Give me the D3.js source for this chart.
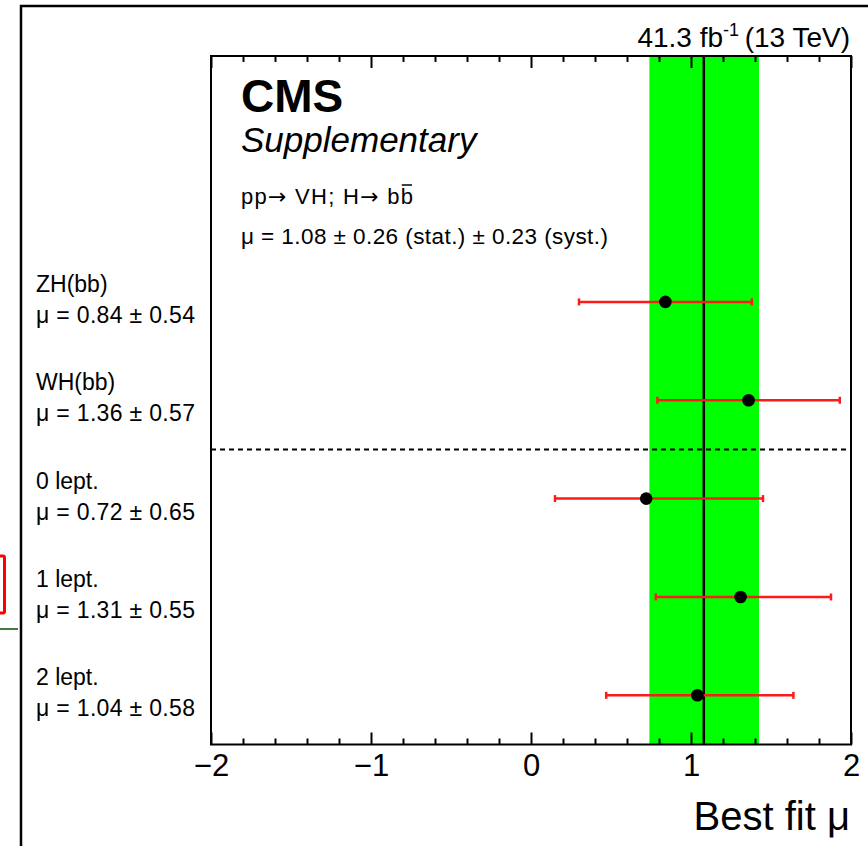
<!DOCTYPE html>
<html><head><meta charset="utf-8">
<script src="https://cdn.jsdelivr.net/npm/d3@7"></script>
<style>
body{margin:0;background:#fff}
svg{display:block}
text{font-family:"Liberation Sans",Arial,Helvetica,sans-serif;fill:#000}
</style>
</head><body>
<svg id="c" width="868" height="846"></svg>
<script>
// ---- data ----
const categories = ["ZH(bb)", "WH(bb)", "0 lept.", "1 lept.", "2 lept."];
const muLabels = ["μ = 0.84 ± 0.54", "μ = 1.36 ± 0.57", "μ = 0.72 ± 0.65", "μ = 1.31 ± 0.55", "μ = 1.04 ± 0.58"];
const muValues = [0.84, 1.36, 0.72, 1.31, 1.04];
const errLow  = [0.54, 0.57, 0.57, 0.53, 0.57];
const errHigh = [0.54, 0.57, 0.73, 0.565, 0.60];
const rowPositions = [4, 3, 2, 1, 0];
const separatorPositions = [2.5];
const combinedMu = [1.08];
const combinedLow = [0.74];
const combinedHigh = [1.425];
const xMajorTicks = [-2, -1, 0, 1, 2];
const xTickLabels = ["\u22122", "\u22121", "0", "1", "2"];
const xMinorTicks = [-1.8,-1.6,-1.4,-1.2,-0.8,-0.6,-0.4,-0.2,0.2,0.4,0.6,0.8,1.2,1.4,1.6,1.8];

// ---- layout ----
const L = 211, R = 851, T = 56, B = 744.5;
const svg = d3.select("#c");
const x = d3.scaleLinear().domain([-2, 2]).range([L, R]);
const y = d3.scaleLinear().domain([-0.5, 6.5]).range([B, T]);

// outer frame (screenshot border)
svg.append("rect").attr("x", 21).attr("y", 6).attr("width", 1000).attr("height", 1000)
  .attr("fill", "none").attr("stroke", "#000").attr("stroke-width", 2.5);
// fragments at left edge
svg.append("rect").attr("x", -3).attr("y", 556).attr("width", 7.5).attr("height", 57)
  .attr("fill", "none").attr("stroke", "#ff0000").attr("stroke-width", 3).attr("rx", 1.5);
svg.append("line").attr("x1", 0).attr("x2", 18).attr("y1", 629).attr("y2", 629)
  .attr("stroke", "#2e6b2e").attr("stroke-width", 1.8);

// green band
svg.append("g").selectAll("rect").data(combinedMu).join("rect")
  .attr("x", (d, i) => x(combinedLow[i]))
  .attr("width", (d, i) => x(combinedHigh[i]) - x(combinedLow[i]))
  .attr("y", T).attr("height", B - T).attr("fill", "#00ff00");
// central line
svg.append("g").selectAll("line").data(combinedMu).join("line")
  .attr("x1", d => x(d)).attr("x2", d => x(d)).attr("y1", T).attr("y2", B)
  .attr("stroke", "#000").attr("stroke-width", 2.5);
// separator
svg.append("g").selectAll("line").data(separatorPositions).join("line")
  .attr("x1", L).attr("x2", R).attr("y1", d => y(d)).attr("y2", d => y(d))
  .attr("stroke", "#000").attr("stroke-width", 2).attr("stroke-dasharray", "5,4");

// error bars
const red = "#ff1a1a";
const eb = svg.append("g").selectAll("g").data(muValues).join("g");
eb.append("line")
  .attr("x1", (d, i) => x(d - errLow[i])).attr("x2", (d, i) => x(d + errHigh[i]))
  .attr("y1", (d, i) => y(rowPositions[i])).attr("y2", (d, i) => y(rowPositions[i]))
  .attr("stroke", red).attr("stroke-width", 2.5);
eb.append("line")
  .attr("x1", (d, i) => x(d - errLow[i])).attr("x2", (d, i) => x(d - errLow[i]))
  .attr("y1", (d, i) => y(rowPositions[i]) - 3.5).attr("y2", (d, i) => y(rowPositions[i]) + 3.5)
  .attr("stroke", red).attr("stroke-width", 2.5);
eb.append("line")
  .attr("x1", (d, i) => x(d + errHigh[i])).attr("x2", (d, i) => x(d + errHigh[i]))
  .attr("y1", (d, i) => y(rowPositions[i]) - 3.5).attr("y2", (d, i) => y(rowPositions[i]) + 3.5)
  .attr("stroke", red).attr("stroke-width", 2.5);
eb.append("circle")
  .attr("cx", d => x(d)).attr("cy", (d, i) => y(rowPositions[i])).attr("r", 6.3)
  .attr("fill", "#000");

// axes
const axB = svg.append("g").attr("transform", `translate(0,${B})`)
  .call(d3.axisBottom(x).tickValues(xMajorTicks).tickSize(-12).tickPadding(9)
    .tickFormat((d, i) => xTickLabels[i]));
axB.select(".domain").remove();
axB.selectAll("line").attr("stroke-width", 2);
axB.selectAll("text").attr("font-size", 31).attr("font-family", '"Liberation Sans",Arial,sans-serif');
const axBm = svg.append("g").attr("transform", `translate(0,${B})`)
  .call(d3.axisBottom(x).tickValues(xMinorTicks).tickSize(-6).tickFormat(""));
axBm.select(".domain").remove();
axBm.selectAll("line").attr("stroke-width", 2);
const axT = svg.append("g").attr("transform", `translate(0,${T})`)
  .call(d3.axisTop(x).tickValues(xMajorTicks).tickSize(-12).tickFormat(""));
axT.select(".domain").remove();
axT.selectAll("line").attr("stroke-width", 2);
const axTm = svg.append("g").attr("transform", `translate(0,${T})`)
  .call(d3.axisTop(x).tickValues(xMinorTicks).tickSize(-6).tickFormat(""));
axTm.select(".domain").remove();
axTm.selectAll("line").attr("stroke-width", 2);

// plot frame
svg.append("rect").attr("x", L).attr("y", T).attr("width", R - L).attr("height", B - T)
  .attr("fill", "none").attr("stroke", "#000").attr("stroke-width", 2);

// left labels
const lab = svg.append("g").selectAll("g").data(categories).join("g");
lab.append("text").attr("x", 36).attr("y", (d, i) => y(rowPositions[i]) - 10)
  .attr("font-size", 23).text(d => d);
lab.append("text").attr("x", 36).attr("y", (d, i) => y(rowPositions[i]) + 21)
  .attr("font-size", 23).attr("textLength", 159).attr("lengthAdjust", "spacing")
  .text((d, i) => muLabels[i]);

// header texts
svg.append("text").attr("x", 241).attr("y", 112).attr("font-size", 46)
  .attr("font-weight", "bold").text("CMS");
svg.append("text").attr("x", 241).attr("y", 152).attr("font-size", 35)
  .attr("font-style", "italic").text("Supplementary");
const proc = svg.append("text").attr("x", 241).attr("y", 204).attr("font-size", 22)
  .attr("textLength", 172).attr("lengthAdjust", "spacing");
proc.append("tspan").text("pp");
proc.append("tspan").attr("font-family", "DejaVu Sans").attr("font-size", 22).text("\u2192");
proc.append("tspan").text(" VH; H");
proc.append("tspan").attr("font-family", "DejaVu Sans").attr("font-size", 22).text("\u2192");
proc.append("tspan").text(" bb");
const pn = proc.node();
const n = pn.getNumberOfChars();
const ext = pn.getExtentOfChar(n - 1);
svg.append("line").attr("x1", ext.x + 1).attr("x2", ext.x + ext.width - 1)
  .attr("y1", ext.y + 1).attr("y2", ext.y + 1).attr("stroke", "#000").attr("stroke-width", 1.5);
svg.append("text").attr("x", 241).attr("y", 244).attr("font-size", 22.5)
  .attr("textLength", 367).attr("lengthAdjust", "spacing")
  .text("μ = 1.08 ± 0.26 (stat.) ± 0.23 (syst.)");

const lumi = svg.append("text").attr("x", 850).attr("y", 47).attr("font-size", 28)
  .attr("text-anchor", "end");
lumi.append("tspan").text("41.3 fb");
lumi.append("tspan").attr("dy", -11).attr("font-size", 18).text("-1");
lumi.append("tspan").attr("dy", 11).text("\u2009(13 TeV)");

svg.append("text").attr("x", 850).attr("y", 830).attr("font-size", 40)
  .attr("text-anchor", "end").text("Best fit μ");
</script>
</body></html>
